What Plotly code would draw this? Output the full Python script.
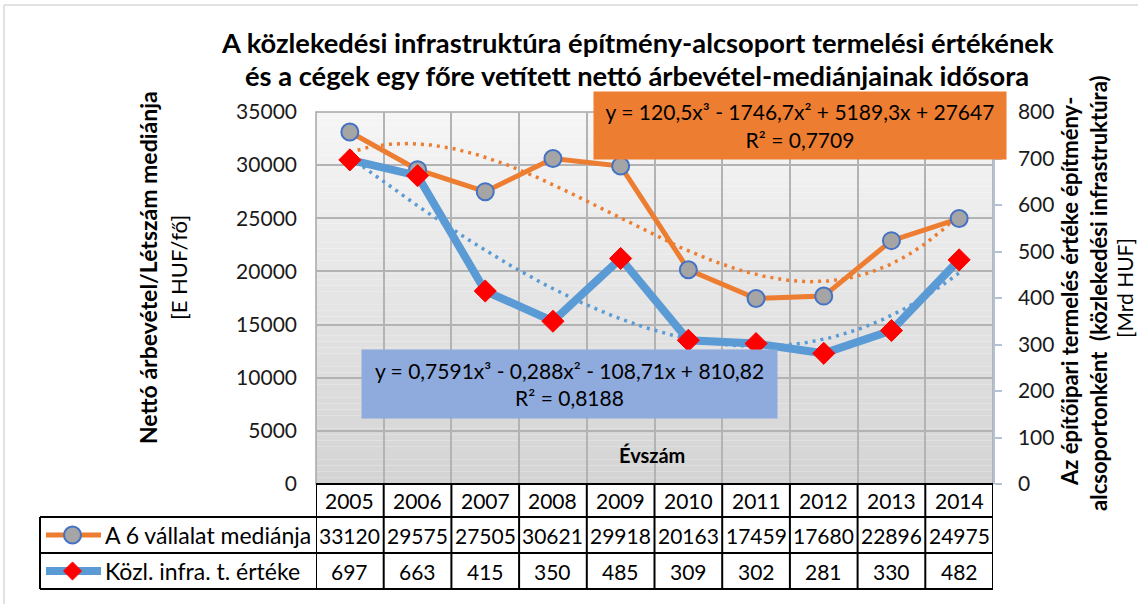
import numpy as np
import plotly.graph_objects as go

# ---------------- data ----------------
years = ['2005', '2006', '2007', '2008', '2009', '2010', '2011', '2012', '2013', '2014']
median_vals = [33120, 29575, 27505, 30621, 29918, 20163, 17459, 17680, 22896, 24975]
infra_vals = [697, 663, 415, 350, 485, 309, 302, 281, 330, 482]
series1_name = 'A 6 vállalat mediánja'
series2_name = 'Közl. infra. t. értéke'
eq1_text = 'y = 120,5x³ - 1746,7x² + 5189,3x + 27647<br>R² = 0,7709'
eq2_text = 'y = 0,7591x³ - 0,288x² - 108,71x + 810,82<br>R² = 0,8188'
left_ticks = [0, 5000, 10000, 15000, 20000, 25000, 30000, 35000]
right_ticks = [0, 100, 200, 300, 400, 500, 600, 700, 800]
title_lines = ['A közlekedési infrastruktúra építmény-alcsoport termelési értékének',
               'és a cégek egy főre vetített nettó árbevétel-mediánjainak idősora']

# ---------------- geometry ----------------
W, H = 1138, 604
L, R, T, B = 316, 993, 112, 484
FONT = 'Lato'
ORANGE = '#ED7D31'
BLUE = '#5B9BD5'


def px(X):
    return (X - L) / (R - L)


def py(Y):
    return (B - Y) / (B - T)


idx = np.arange(1, len(years) + 1)
xs_dense = np.linspace(1, len(years), 300)
fit1 = np.polyval(np.polyfit(idx, median_vals, 3), xs_dense)
fit2 = np.polyval(np.polyfit(idx, infra_vals, 3), xs_dense)

fig = go.Figure()
fig.add_trace(go.Scatter(x=xs_dense, y=fit1, mode='lines', yaxis='y',
                         line=dict(color=ORANGE, width=3.5, dash='3px,5px'), hoverinfo='skip'))
fig.add_trace(go.Scatter(x=idx, y=median_vals, mode='lines+markers', yaxis='y',
                         line=dict(color=ORANGE, width=5),
                         marker=dict(symbol='circle', size=17, color='#a5a5a5',
                                     line=dict(color='#4472C4', width=2))))
fig.add_trace(go.Scatter(x=xs_dense, y=fit2, mode='lines', yaxis='y2',
                         line=dict(color=BLUE, width=3.5, dash='3px,5px'), hoverinfo='skip'))
fig.add_trace(go.Scatter(x=idx, y=infra_vals, mode='lines+markers', yaxis='y2',
                         line=dict(color=BLUE, width=8),
                         marker=dict(symbol='diamond', size=17, color='#FF0000',
                                     line=dict(color='#FF0000', width=1))))

shapes = []
# gradient background of plot area (stripes below gridlines)
n = 60
top_c = np.array([0xf6, 0xf6, 0xf6])
bot_c = np.array([0xd4, 0xd4, 0xd4])
for i in range(n):
    t = (i + 0.5) / n
    c = (bot_c + (top_c - bot_c) * t).astype(int)
    shapes.append(dict(type='rect', xref='paper', yref='paper', x0=0, x1=1,
                       y0=i / n, y1=(i + 1) / n, line=dict(width=0),
                       fillcolor='rgb(%d,%d,%d)' % tuple(c), layer='below'))
# plot border
shapes.append(dict(type='rect', xref='paper', yref='paper', x0=0, x1=1, y0=0, y1=1,
                   line=dict(color='#a6a6a6', width=1.5), layer='between'))
# outer chart frame (top and left)
shapes.append(dict(type='line', xref='paper', yref='paper', x0=px(4), x1=px(1138),
                   y0=py(5), y1=py(5), line=dict(color='#d9d9d9', width=1.5)))
shapes.append(dict(type='line', xref='paper', yref='paper', x0=px(4), x1=px(4),
                   y0=py(5), y1=py(604), line=dict(color='#d9d9d9', width=1.5)))

# data table lines
row_lines = [484, 517, 553, 589]
tbl = dict(color='black', width=2)
shapes.append(dict(type='line', xref='paper', yref='paper', x0=0, x1=1,
                   y0=py(484), y1=py(484), line=tbl))
for Y in row_lines[1:]:
    shapes.append(dict(type='line', xref='paper', yref='paper', x0=px(40), x1=1,
                       y0=py(Y), y1=py(Y), line=tbl))
shapes.append(dict(type='line', xref='paper', yref='paper', x0=px(40), x1=px(40),
                   y0=py(517), y1=py(589), line=tbl))
for k in range(len(years) + 1):
    shapes.append(dict(type='line', xref='x', yref='paper', x0=k + 0.5, x1=k + 0.5,
                       y0=py(484), y1=py(589), line=tbl))

# legend glyphs in the table
shapes.append(dict(type='line', xref='paper', yref='paper', x0=px(46), x1=px(101),
                   y0=py(535), y1=py(535), line=dict(color=ORANGE, width=5)))
shapes.append(dict(type='circle', xref='paper', yref='paper', x0=px(64), x1=px(81),
                   y0=py(543.5), y1=py(526.5), fillcolor='#a5a5a5',
                   line=dict(color='#4472C4', width=2)))
shapes.append(dict(type='line', xref='paper', yref='paper', x0=px(46), x1=px(101),
                   y0=py(571), y1=py(571), line=dict(color=BLUE, width=8)))
cx, cy, r = 72.5, 571, 9
shapes.append(dict(type='path', xref='paper', yref='paper',
                   path='M %f,%f L %f,%f L %f,%f L %f,%f Z' % (
                       px(cx), py(cy - r), px(cx + r), py(cy), px(cx), py(cy + r),
                       px(cx - r), py(cy)),
                   fillcolor='#FF0000', line=dict(color='#FF0000', width=1)))

ann = []


def add_text(text, X, Y, size, angle=0, xanchor='center', xref='paper', xval=None, **kw):
    ann.append(dict(text=text, xref=xref, yref='paper',
                    x=px(X) if xval is None else xval, y=py(Y),
                    xanchor=xanchor, yanchor='middle', textangle=angle, showarrow=False,
                    font=dict(family=FONT, size=size, color='black'), **kw))


# title
for i, line in enumerate(title_lines):
    add_text('<b>%s</b>' % line, 637, 43 + 32 * i, 27.3)
# left axis title
add_text('<b>Nettó árbevétel/Létszám mediánja</b>', 148, 268, 23, angle=-90)
add_text('[E HUF/fő]', 178, 268, 22, angle=-90)
# right axis title
add_text('<b>Az építőipari termelés értéke építmény-</b>', 1069, 292, 22, angle=-90)
add_text('<b>alcsoportonként  (közlekedési infrastruktúra)</b>', 1098, 294, 22, angle=-90)
add_text('[Mrd HUF]', 1124, 288, 21, angle=-90)
# x axis title
add_text('<b>Évszám</b>', 652, 455, 20)
# equation boxes
add_text(eq1_text, 800, 125.5, 21, width=410, height=65, bgcolor=ORANGE, align='center')
add_text(eq2_text, 569.5, 384, 21, width=413, height=66, bgcolor='#8FAADC', align='center')
# table text
for i, yr in enumerate(years):
    add_text(yr, 0, 500.5, 21, xref='x', xval=i + 1)
    add_text(str(median_vals[i]), 0, 535, 21, xref='x', xval=i + 1)
    add_text(str(infra_vals[i]), 0, 571, 21, xref='x', xval=i + 1)
add_text(series1_name, 103, 535, 23, xanchor='left')
add_text(series2_name, 103, 571, 23, xanchor='left')

tickfont = dict(family=FONT, size=21, color='#1a1a1a')
fig.update_layout(
    width=W, height=H,
    margin=dict(l=L, r=W - R, t=T, b=H - B, pad=0),
    paper_bgcolor='white', plot_bgcolor='rgba(0,0,0,0)',
    showlegend=False,
    xaxis=dict(range=[0.5, len(years) + 0.5], tickvals=[k + 0.5 for k in range(len(years) + 1)],
               showticklabels=False, showgrid=True, gridcolor='#b3b3b3', gridwidth=1.5,
               zeroline=False, showline=False, ticks='', fixedrange=True),
    yaxis=dict(range=[0, 35000], tickvals=left_ticks, ticktext=[str(v) for v in left_ticks],
               showgrid=True, gridcolor='#b3b3b3', gridwidth=1.5, zeroline=False,
               showline=False, ticks='', tickfont=tickfont, ticklabelstandoff=18),
    yaxis2=dict(range=[0, 800], tickvals=right_ticks, ticktext=[str(v) for v in right_ticks],
                overlaying='y', side='right', showgrid=False, zeroline=False,
                showline=True, linecolor='#b4c0d4', linewidth=1.5,
                ticks='outside', ticklen=7, tickcolor='#b4c0d4', tickwidth=1.5,
                tickfont=tickfont, ticklabelstandoff=12),
    shapes=shapes,
    annotations=ann,
)

fig.write_html('out.html', config={'displayModeBar': False},
               post_script="document.body.style.margin='0';")
